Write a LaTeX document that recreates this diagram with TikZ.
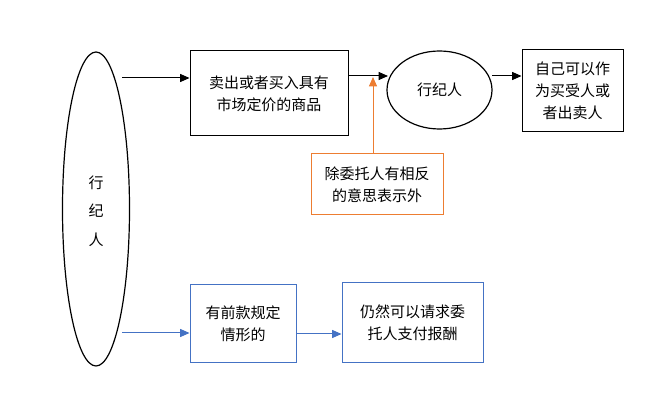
\documentclass[tikz,border=0pt]{standalone}
\usepackage{fontspec}
\setmainfont{Noto Sans CJK SC}
\usetikzlibrary{arrows.meta,calc,shapes.geometric}
\definecolor{orng}{HTML}{ED7D31}
\definecolor{blu}{HTML}{4472C4}
\begin{document}
\begin{tikzpicture}[x=0.75pt,y=-0.75pt,
  every node/.style={font=\fontsize{11.25pt}{16.5pt}\selectfont, align=center, inner sep=0pt},
  boxk/.style={draw=black, line width=0.75pt, rectangle},
  boxo/.style={draw=orng, line width=0.75pt, rectangle},
  boxb/.style={draw=blu, line width=0.75pt, rectangle},
  arrk/.style={draw=black, line width=0.75pt, -{Triangle[length=7pt,width=6pt]}},
  arro/.style={draw=orng, line width=0.75pt, -{Triangle[length=7pt,width=6pt]}},
  arrb/.style={draw=blu, line width=0.75pt, -{Triangle[length=7pt,width=6pt]}}]
\useasboundingbox (0,0) rectangle (669,406);
% big ellipse
\node[draw=black, line width=0.9pt, ellipse, minimum width=67*0.75pt, minimum height=314*0.75pt] (big) at (96,209) {};
\node (bigtxt) at (96,211) {行\\[5pt]纪\\[5pt]人};
% boxes
\node[boxk, minimum width=158*0.75pt, minimum height=85*0.75pt] (b1) at (269,93.5) {卖出或者买入具有\\市场定价的商品};
\node[draw=black, line width=0.9pt, ellipse, minimum width=105*0.75pt, minimum height=78*0.75pt] (e2) at (439.5,90) {行纪人};
\node[boxk, minimum width=101*0.75pt, minimum height=82*0.75pt] (b4) at (572.5,91) {自己可以作\\为买受人或\\者出卖人};
\node[boxo, minimum width=132*0.75pt, minimum height=61*0.75pt] (b3) at (377,184.5) {除委托人有相反\\的意思表示外};
\node[boxb, minimum width=106*0.75pt, minimum height=78*0.75pt] (b5) at (243,324) {有前款规定\\情形的};
\node[boxb, minimum width=141*0.75pt, minimum height=80*0.75pt] (b6) at (412.5,323) {仍然可以请求委\\托人支付报酬};
% connectors
\coordinate (s1) at (122,78);
\draw[arrk] (s1) -- (b1.west |- s1);
\coordinate (y2) at (0,76);
\coordinate (t2) at (388,76);
\draw[arrk] (b1.east |- y2) -- (t2);
\coordinate (t3) at (373,77);
\draw[arro] (b3.north -| t3) -- (t3);
\coordinate (s4) at (492,76);
\draw[arrk] (s4) -- (b4.west |- s4);
\coordinate (s5) at (122,333);
\draw[arrb] (s5) -- (b5.west |- s5);
\coordinate (y6) at (0,334);
\draw[arrb] (b5.east |- y6) -- (b6.west |- y6);
\end{tikzpicture}
\end{document}
